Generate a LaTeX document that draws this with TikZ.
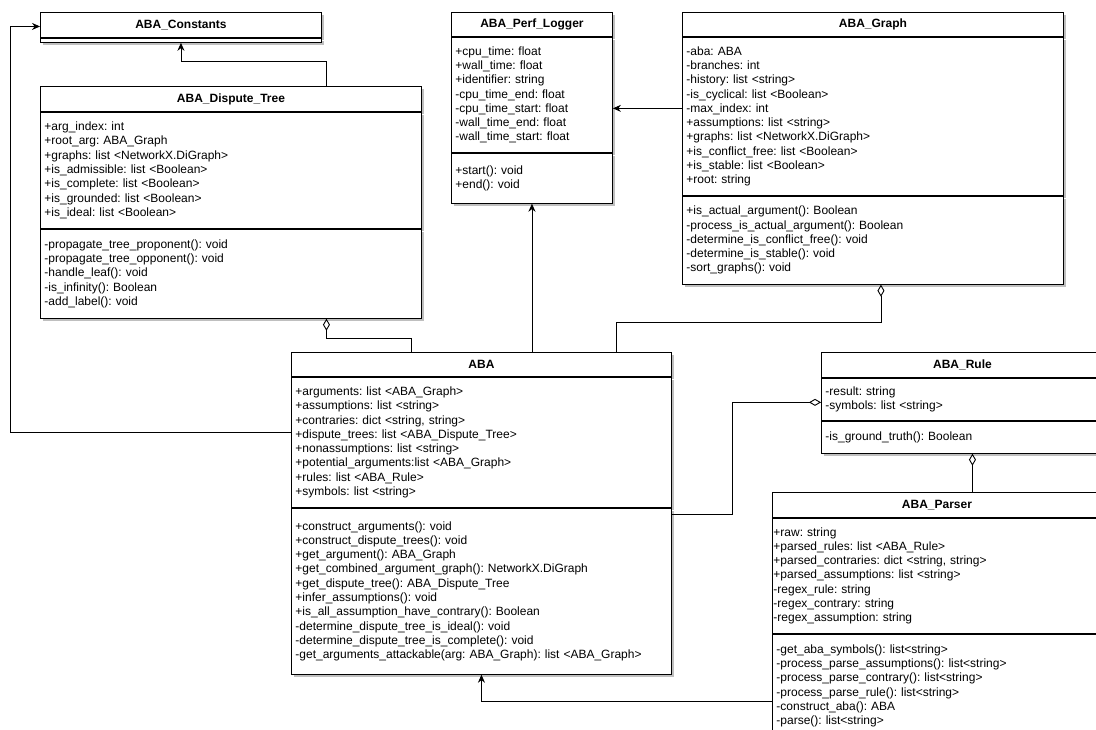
\documentclass[tikz,border=0pt]{standalone}
\usepackage{fontspec}
\setmainfont{Liberation Sans}
\usetikzlibrary{arrows.meta, positioning, shadows}
\frenchspacing
\tikzset{%
	every class part/.style={
		draw,
		fill=white,
		line width=0.9pt,
		inner xsep=4pt,
		inner ysep=0pt,
		align=left,
		font=\fontsize{12}{14.3}\selectfont,
		drop shadow={shadow xshift=3pt, shadow yshift=-3pt, fill=black!25, opacity=1}
	},
	class name/.style={
		every class part,
		anchor=north west,
		align=center,
		font=\fontsize{12}{14.3}\selectfont\bfseries
	},
	uml assoc/.style={-{Stealth[length=8pt, width=7pt]}, line width=0.9pt},
	uml aggr/.style={-{Diamond[open, length=12pt, width=7pt]}, line width=0.9pt},
}

\begin{document}
\begin{tikzpicture}[x=1pt, y=1pt]
	\useasboundingbox (0,0) rectangle (1096,-729);
	\clip (0,0) rectangle (1096,-729);
	
	% ABA_Constants (no members)
	\node[class name, text width=273pt, minimum height=25pt] (const-head) at (40,-12) {ABA\_Constants};
	\node[every class part, text width=273pt, minimum height=4pt, below=0pt of const-head] (const-part) {};
	
	% ABA_Dispute_Tree
	\node[class name, text width=373pt, minimum height=25pt] (dt-head) at (40,-86) {ABA\_Dispute\_Tree};
	\node[every class part, text width=373pt, minimum height=116pt, below=0pt of dt-head] (dt-attr) {
		+arg\_index: int\\
		+root\_arg: ABA\_Graph\\
		+graphs: list <NetworkX.DiGraph>\\
		+is\_admissible: list <Boolean>\\
		+is\_complete: list <Boolean>\\
		+is\_grounded: list <Boolean>\\
		+is\_ideal: list <Boolean>
	};
	\node[every class part, text width=373pt, minimum height=89pt, below=0pt of dt-attr] (dt-meth) {
		-propagate\_tree\_proponent(): void\\
		-propagate\_tree\_opponent(): void\\
		-handle\_leaf(): void\\
		-is\_infinity(): Boolean\\
		-add\_label(): void
	};
	
	% ABA_Perf_Logger
	\node[class name, text width=153pt, minimum height=24pt] (perf-head) at (451,-12) {ABA\_Perf\_Logger};
	\node[every class part, text width=153pt, minimum height=115pt, below=0pt of perf-head] (perf-attr) {
		+cpu\_time: float\\
		+wall\_time: float\\
		+identifier: string\\
		-cpu\_time\_end: float\\
		-cpu\_time\_start: float\\
		-wall\_time\_end: float\\
		-wall\_time\_start: float
	};
	\node[every class part, text width=153pt, minimum height=50pt, below=0pt of perf-attr] (perf-meth) {
		+start(): void\\
		+end(): void
	};
	
	% ABA_Graph
	\node[class name, text width=373pt, minimum height=24pt] (graph-head) at (682,-12) {ABA\_Graph};
	\node[every class part, text width=373pt, minimum height=158pt, below=0pt of graph-head] (graph-attr) {
		-aba: ABA\\
		-branches: int\\
		-history: list <string>\\
		-is\_cyclical: list <Boolean>\\
		-max\_index: int\\
		+assumptions: list <string>\\
		+graphs: list <NetworkX.DiGraph>\\
		+is\_conflict\_free: list <Boolean>\\
		+is\_stable: list <Boolean>\\
		+root: string
	};
	\node[every class part, text width=373pt, minimum height=88pt, below=0pt of graph-attr] (graph-meth) {
		+is\_actual\_argument(): Boolean\\
		-process\_is\_actual\_argument(): Boolean\\
		-determine\_is\_conflict\_free(): void\\
		-determine\_is\_stable(): void\\
		-sort\_graphs(): void
	};
	
	% ABA
	\node[class name, text width=372pt, minimum height=24pt] (aba-head) at (291,-352) {ABA};
	\node[every class part, text width=372pt, minimum height=130pt, below=0pt of aba-head] (aba-attr) {
		+arguments: list <ABA\_Graph>\\
		+assumptions: list <string>\\
		+contraries: dict <string, string>\\
		+dispute\_trees: list <ABA\_Dispute\_Tree>\\
		+nonassumptions: list <string>\\
		+potential\_arguments:list <ABA\_Graph>\\
		+rules: list <ABA\_Rule>\\
		+symbols: list <string>
	};
	\node[every class part, text width=372pt, minimum height=166pt, below=0pt of aba-attr] (aba-meth) {
		+construct\_arguments(): void\\
		+construct\_dispute\_trees(): void\\
		+get\_argument(): ABA\_Graph\\
		+get\_combined\_argument\_graph(): NetworkX.DiGraph\\
		+get\_dispute\_tree(): ABA\_Dispute\_Tree\\
		+infer\_assumptions(): void\\
		+is\_all\_assumption\_have\_contrary(): Boolean\\
		-determine\_dispute\_tree\_is\_ideal(): void\\
		-determine\_dispute\_tree\_is\_complete(): void\\
		-get\_arguments\_attackable(arg: ABA\_Graph): list <ABA\_Graph>
	};
	
	% ABA_Rule
	\node[class name, text width=274pt, minimum height=25pt] (rule-head) at (821,-352) {ABA\_Rule};
	\node[every class part, text width=274pt, minimum height=42pt, below=0pt of rule-head] (rule-attr) {
		-result: string\\
		-symbols: list <string>
	};
	\node[every class part, text width=274pt, minimum height=32pt, below=0pt of rule-attr] (rule-meth) {
		-is\_ground\_truth(): Boolean
	};
	
	% ABA_Parser
	\node[class name, text width=321pt, minimum height=25pt] (parser-head) at (772,-492) {ABA\_Parser};
	\node[every class part, inner xsep=1pt, text width=327pt, minimum height=115pt, below=0pt of parser-head] (parser-attr) {
		+raw: string\\
		+parsed\_rules: list <ABA\_Rule>\\
		+parsed\_contraries: dict <string, string>\\
		+parsed\_assumptions: list <string>\\
		-regex\_rule: string\\
		-regex\_contrary: string\\
		-regex\_assumption: string
	};
	\node[every class part, text width=321pt, minimum height=103pt, below=0pt of parser-attr] (parser-meth) {
		-get\_aba\_symbols(): list<string>\\
		-process\_parse\_assumptions(): list<string>\\
		-process\_parse\_contrary(): list<string>\\
		-process\_parse\_rule(): list<string>\\
		-construct\_aba(): ABA\\
		-parse(): list<string>
	};
	
	% associations
	\draw[uml assoc] ([xshift=95.5]dt-head.north) -- ++(0,25) -| (const-part.south);
	\draw[uml assoc] ([yshift=8]graph-attr.west) -- ([yshift=8]graph-attr.west -| perf-attr.east);
	\draw[uml assoc] (perf-meth.south |- aba-head.north) -- (perf-meth.south);
	\draw[uml assoc] ([yshift=10]aba-attr.west) -- ++(-281,0) |- ([yshift=-1.5]const-head.west);
	\draw[uml assoc] ([yshift=-15.5]parser-meth.west) -| (aba-meth.south);
	
	% aggregations
	\draw[uml aggr] ([xshift=-70]aba-head.north) -- ++(0,14) -| ([xshift=95.5]dt-meth.south);
	\draw[uml aggr] ([xshift=135]aba-head.north) -- ++(0,30) -| ([xshift=8]graph-meth.south);
	\draw[uml aggr] ([yshift=77]aba-meth.east) -- ++(61,0) |- ([yshift=-3]rule-attr.west);
	\draw[uml aggr] ([xshift=10]rule-meth.south |- parser-head.north) -- ([xshift=10]rule-meth.south);
\end{tikzpicture}
\end{document}
